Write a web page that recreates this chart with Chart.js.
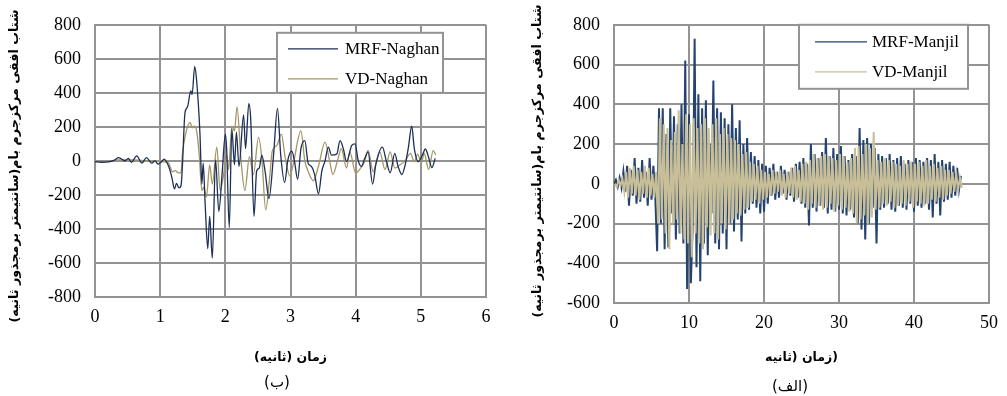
<!DOCTYPE html>
<html lang="fa">
<head>
<meta charset="utf-8">
<title>شتاب افقی مرکزجرم بام</title>
<script src="https://cdn.jsdelivr.net/npm/chart.js@4.4.1/dist/chart.umd.min.js"></script>
<style>
  html, body { margin: 0; padding: 0; background: #fff; }
  body { width: 1007px; height: 396px; position: relative; overflow: hidden; }
  canvas { position: absolute; top: 0; }
  #naghan { left: 0; }
  #manjil { left: 500px; }
</style>
</head>
<body>
<canvas id="naghan" width="500" height="396"></canvas>
<canvas id="manjil" width="507" height="396"></canvas>
<script>
// ---- داده ها (خوانده شده از تصویر) ----

// (ب) ناغان : زمان (ثانیه) و شتاب
const naghanMrfTime = [0, 0.1, 0.2, 0.3, 0.36, 0.42, 0.46, 0.51, 0.56, 0.64, 0.72, 0.79, 0.87, 0.92, 0.97, 1.02, 1.06, 1.13, 1.18, 1.22, 1.25, 1.29, 1.32, 1.34, 1.38, 1.42, 1.47, 1.49, 1.53, 1.56, 1.61, 1.64, 1.66, 1.69, 1.73, 1.76, 1.8, 1.85, 1.9, 1.95, 2.0, 2.02, 2.06, 2.1, 2.14, 2.17, 2.21, 2.28, 2.31, 2.36, 2.39, 2.44, 2.48, 2.52, 2.56, 2.61, 2.67, 2.74, 2.8, 2.85, 2.91, 2.96, 3.02, 3.06, 3.11, 3.16, 3.22, 3.27, 3.32, 3.37, 3.43, 3.48, 3.53, 3.58, 3.63, 3.71, 3.76, 3.81, 3.86, 3.94, 3.99, 4.04, 4.09, 4.14, 4.19, 4.26, 4.31, 4.41, 4.47, 4.53, 4.6, 4.65, 4.71, 4.76, 4.81, 4.86, 4.9, 4.96, 5.02, 5.07, 5.12, 5.17, 5.22];
const naghanMrfAcc = [-5, -8, -6, 5, 19, 8, 0, 15, -8, 30, -13, 19, -13, 0, -19, -5, 11, -32, -98, -165, -132, -159, -146, -42, 280, 318, 412, 390, 555, 470, 166, -136, -13, -250, -515, -326, -572, 6, -297, -80, 157, 72, -392, 186, -23, 167, -32, 271, 72, 337, 242, -326, -61, -42, 34, -61, -221, 34, 309, 34, -127, 6, 57, 0, -108, 72, 119, -13, -32, -80, -193, -61, 0, 81, 34, 40, 119, 72, -4, 91, 100, 0, -32, 15, 53, -136, -20, 81, 0, -70, 44, -32, -80, -23, 81, 204, 72, -5, 30, 70, 20, -40, 15];

const naghanVdTime = [0, 0.2, 0.35, 0.6, 0.8, 1.0, 1.1, 1.13, 1.19, 1.23, 1.28, 1.32, 1.34, 1.39, 1.46, 1.49, 1.52, 1.56, 1.6, 1.64, 1.67, 1.71, 1.76, 1.8, 1.87, 1.92, 1.97, 2.02, 2.05, 2.1, 2.14, 2.18, 2.24, 2.3, 2.37, 2.43, 2.51, 2.56, 2.62, 2.68, 2.72, 2.79, 2.86, 2.92, 2.99, 3.04, 3.16, 3.22, 3.27, 3.35, 3.43, 3.53, 3.6, 3.65, 3.72, 3.78, 3.86, 3.91, 4.0, 4.08, 4.14, 4.19, 4.27, 4.32, 4.37, 4.45, 4.53, 4.6, 4.68, 4.76, 4.84, 4.9, 4.95, 5.01, 5.05, 5.12, 5.19, 5.23];
const naghanVdAcc = [-4, -4, 6, 6, 0, -4, -8, -13, -64, -57, -70, -70, 34, 157, 227, 195, 204, 176, 34, -174, -155, -212, -23, -136, 81, -174, -89, 34, -51, 204, 176, 318, 6, -174, 25, -80, 138, 15, -288, -98, 57, 91, 157, 15, -89, -23, 176, 0, -61, -117, -30, 110, 0, -80, 0, 72, -42, 53, -70, -40, 0, 62, -65, 0, 53, -51, 53, -42, -23, 0, 44, -5, 40, -10, 45, -50, 60, 35];

// (الف) منجیل : نمونه ها هر ۰٫۲۵ ثانیه (VD نیم گام جابجا)
const manjilStep = 0.25;
const manjilVdShift = 0.125;
const manjilMrfAcc = [
  0, 20, -15, 30, -20, 60, -40, 90, -110, 70,
  -60, 130, -100, 80, -90, 120, -70, 60, -110, 130,
  -80, 90, -60, -340, 380, -200, 380, -330, 250, -320,
  380, -150, 340, -280, 300, -250, 400, -300, 620, -530,
  350, -500, -200, 730, -420, 450, -490, 380, -300, 420,
  -360, 200, -150, 520, -300, 380, -330, 360, -250, 330,
  -330, 300, -200, 400, -240, 280, -180, 320, -290, 200,
  -150, 230, -130, 160, -100, 140, -120, 120, -150, 100,
  -140, 90, -100, 80, -60, 100, -80, 60, -70, 90,
  -50, 70, -80, 60, -60, 80, -90, 100, -70, 110,
  -100, 130, -120, 100, -210, 200, -120, 150, -140, 130,
  -110, 160, -120, 230, -150, 140, -130, 180, -140, 150,
  -130, 190, -150, 140, -160, 120, -130, 150, -170, 140,
  -200, 280, -230, 220, -280, 230, -200, 200, -120, 180,
  -300, 150, -130, 140, -120, 130, -100, 150, -130, 120,
  -140, 130, -110, 140, -120, 100, -130, 120, -100, 110,
  -140, 130, -110, 120, -120, 110, -100, 130, -130, 120,
  -170, 150, -100, 110, -160, 120, -90, 100, -80, 110,
  -70, 90, -60, 80, -30, 40
];
const manjilVdAcc = [
  0, -15, 20, -10, 25, -40, 60, -70, 80, -50,
  90, -60, 70, -80, 60, -50, 90, -70, 80, -60,
  50, -70, 60, -200, 330, -180, 300, -250, 280, -330,
  220, -200, 260, -180, 370, -250, 200, -280, 350, -300,
  300, -370, 330, -250, 280, -300, 300, -330, 330, -220,
  280, -260, 300, -250, 330, -280, 250, -200, 280, -230,
  250, -200, 230, -180, 220, -150, 200, -160, 150, -130,
  160, -120, 110, -90, 100, -80, 90, -100, 70, -80,
  60, -70, 50, -60, 70, -50, 60, -40, 70, -60,
  50, -70, 60, -50, 80, -70, 90, -80, 70, -90,
  100, -100, 110, -130, 120, -100, 150, -120, 130, -110,
  140, -130, 150, -120, 140, -100, 130, -140, 120, -110,
  150, -130, 140, -120, 110, -140, 130, -150, 180, -200,
  190, -180, 150, -160, 200, -200, 180, -170, 260, -130,
  120, -120, 110, -100, 130, -110, 120, -90, 110, -120,
  100, -110, 90, -100, 120, -110, 100, -90, 110, -120,
  100, -90, 110, -100, 90, -110, 120, -100, 90, -80,
  100, -90, 80, -70, 90, -80, 70, -60, 70, -50,
  60, -40, 50, -30, 30, -20
];

// محورها
const naghanXTicks = [0, 1, 2, 3, 4, 5, 6];
const naghanYTicks = [-800, -600, -400, -200, 0, 200, 400, 600, 800];
const manjilXTicks = [0, 10, 20, 30, 40, 50];
const manjilYTicks = [-600, -400, -200, 0, 200, 400, 600, 800];

const yTitle = "شتاب افقی مرکزجرم بام(سانتیمتر برمجذور ثانیه)";
const RLM = "\u200F";
const GRID = "#939393";

// جعبه راهنما داخل نمودار + عنوان محور عمودی + زیرنویس (الف)/(ب)
const legendBox = {
  id: "legendBox",
  afterDatasetsDraw(chart, args, o) {
    const { ctx, chartArea } = chart;
    const x = chartArea.left + o.dx;
    const y = chartArea.top + o.dy;
    ctx.save();
    ctx.fillStyle = "#fff";
    ctx.fillRect(x, y, o.w, o.h);
    ctx.strokeStyle = GRID;
    ctx.lineWidth = 2;
    ctx.strokeRect(x, y, o.w, o.h);
    ctx.font = '17px "Liberation Serif"';
    ctx.textBaseline = "middle";
    ctx.textAlign = "left";
    chart.data.datasets.forEach((ds, i) => {
      const ly = y + o.row0 + i * o.rowGap;
      ctx.strokeStyle = ds.borderColor;
      ctx.lineWidth = 1.3;
      ctx.beginPath();
      ctx.moveTo(x + o.lineX0, ly);
      ctx.lineTo(x + o.lineX1, ly);
      ctx.stroke();
      ctx.fillStyle = "#000";
      ctx.fillText(ds.label, x + o.textX, ly + 1);
    });
    ctx.font = '15px "DejaVu Sans"';
    ctx.textAlign = "center";
    ctx.fillText(RLM + o.caption + RLM, chartArea.left + o.capDx, o.capY);

    // عنوان محور y
    ctx.translate(o.yTitleX, o.yTitleY);
    ctx.rotate(-Math.PI / 2);
    ctx.font = 'bold 12.7px "DejaVu Sans"';
    ctx.fillText(RLM + yTitle + RLM, 0, 0);
    ctx.restore();
  },
};

function makeChart(id, cfg) {
  const tickFont = { family: '"Liberation Serif", serif', size: 18 };
  const titleFont = { family: '"DejaVu Sans", sans-serif', size: 12.5, weight: "bold" };
  return new Chart(document.getElementById(id), {
    type: "line",
    data: { datasets: cfg.datasets },
    options: {
      responsive: false,
      animation: false,
      events: [],
      layout: { padding: { top: cfg.top, right: cfg.right, left: 0, bottom: 0 } },
      plugins: {
        legend: { display: false },
        tooltip: { enabled: false },
        legendBox: cfg.legend,
      },
      scales: {
        x: {
          type: "linear",
          min: cfg.xTicks[0],
          max: cfg.xTicks[cfg.xTicks.length - 1],
          afterBuildTicks: (s) => { s.ticks = cfg.xTicks.map((v) => ({ value: v })); },
          afterFit: (s) => { s.height = cfg.xHeight; },
          ticks: { color: "#000", font: tickFont, padding: 9, autoSkip: false, maxRotation: 0 },
          grid: { color: GRID, lineWidth: 2, drawTicks: false },
          border: { color: GRID, width: 2 },
          title: {
            display: true,
            text: RLM + cfg.xTitle + RLM,
            color: "#000",
            font: titleFont,
            padding: { top: 4, bottom: 31 },
          },
        },
        y: {
          min: cfg.yTicks[0],
          max: cfg.yTicks[cfg.yTicks.length - 1],
          afterBuildTicks: (s) => { s.ticks = cfg.yTicks.map((v) => ({ value: v })); },
          afterFit: (s) => { s.width = cfg.yWidth; },
          ticks: { color: "#000", font: tickFont, padding: 14, autoSkip: false },
          grid: { color: GRID, lineWidth: 2, drawTicks: false },
          border: { color: GRID, width: 2 },
        },
      },
    },
    plugins: [legendBox],
  });
}

// (ب) Naghan
makeChart("naghan", {
  top: 6,
  right: 14,
  yWidth: 95,
  xHeight: 99,
  xTicks: naghanXTicks,
  yTicks: naghanYTicks,
  xTitle: "زمان (ثانیه)",
  legend: { dx: 182, dy: 8, w: 166, h: 60, row0: 16, rowGap: 30, lineX0: 11, lineX1: 61, textX: 68, caption: "(ب)", capDx: 182, capY: 383, yTitleX: 15, yTitleY: 166 },
  datasets: [
    {
      label: "MRF-Naghan",
      data: naghanMrfTime.map((t, i) => ({ x: t, y: naghanMrfAcc[i] })),
      borderColor: "#1c2f57",
      borderWidth: 1.3,
      pointRadius: 0,
      cubicInterpolationMode: "monotone",
    },
    {
      label: "VD-Naghan",
      data: naghanVdTime.map((t, i) => ({ x: t, y: naghanVdAcc[i] })),
      borderColor: "#a39565",
      borderWidth: 1.3,
      pointRadius: 0,
      cubicInterpolationMode: "monotone",
    },
  ],
});

// (الف) Manjil
makeChart("manjil", {
  top: 8,
  right: 16,
  yWidth: 114,
  xHeight: 93,
  xTicks: manjilXTicks,
  yTicks: manjilYTicks,
  xTitle: "(زمان (ثانیه",
  legend: { dx: 185, dy: 0, w: 169, h: 64, row0: 17, rowGap: 30, lineX0: 16, lineX1: 68, textX: 73, caption: "(الف)", capDx: 176, capY: 387, yTitleX: 38, yTitleY: 161 },
  datasets: [
    {
      label: "MRF-Manjil",
      data: manjilMrfAcc.map((v, i) => ({ x: i * manjilStep, y: v })),
      borderColor: "#25436f",
      borderWidth: 2,
      pointRadius: 0,
      order: 1,
    },
    {
      label: "VD-Manjil",
      data: manjilVdAcc.map((v, i) => ({ x: i * manjilStep + manjilVdShift, y: v })),
      borderColor: "#c8bf98",
      borderWidth: 2,
      pointRadius: 0,
      order: 0,
    },
  ],
});
</script>
</body>
</html>
